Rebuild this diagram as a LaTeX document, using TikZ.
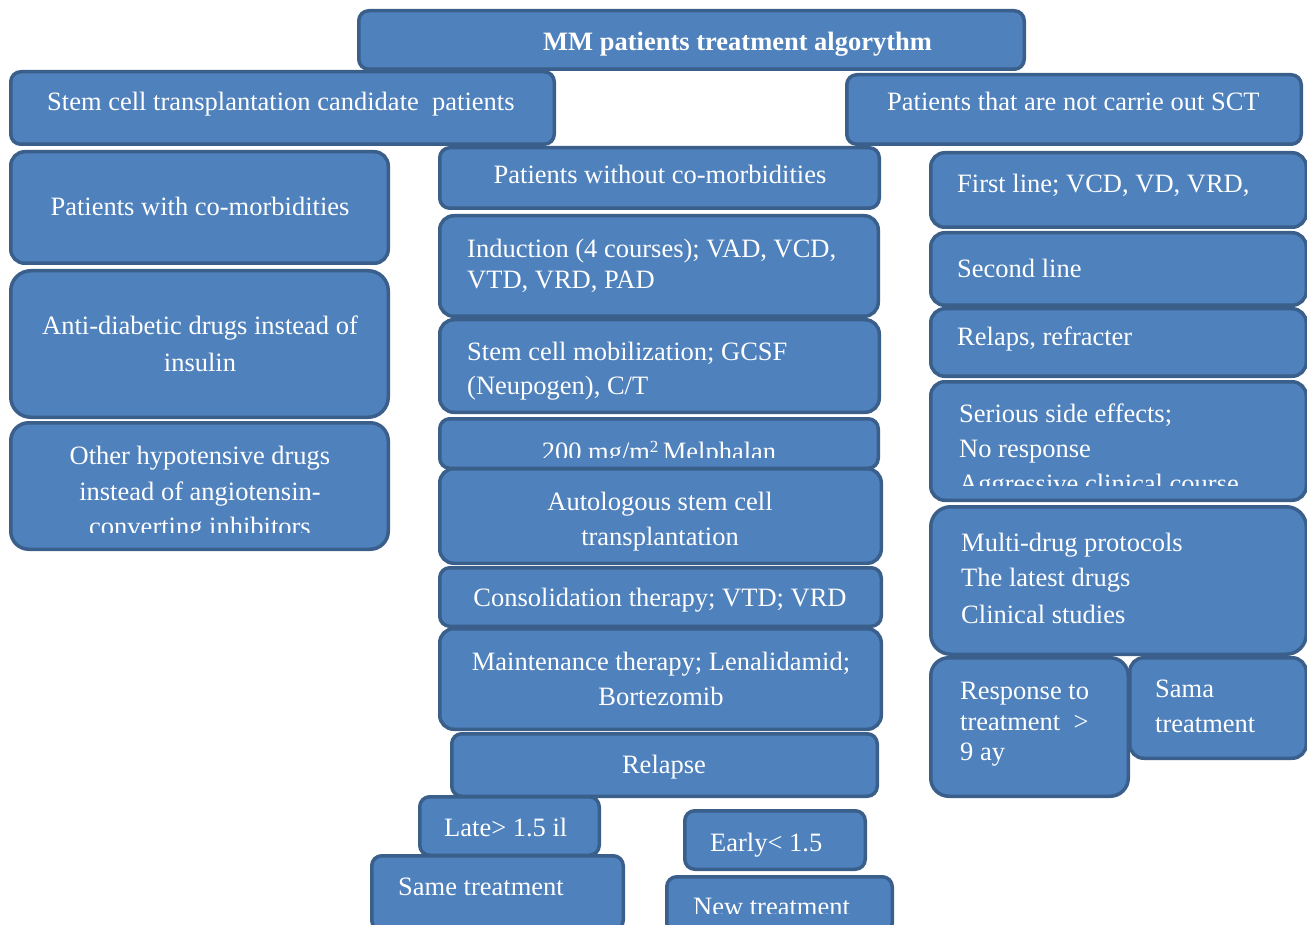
\documentclass[tikz,border=0pt]{standalone}
\usepackage{fontspec}
\setmainfont{Liberation Serif}
\definecolor{boxfill}{HTML}{4F81BD}
\definecolor{boxline}{HTML}{3A5F8B}
\tikzset{
  bx/.style={fill=boxfill, draw=boxline, line width=3.5pt, rounded corners=14pt},
  sbx/.style={bx, rounded corners=10pt},
  tl/.style={anchor=base west, inner sep=0pt, text=white, font=\fontsize{26.5}{35}\selectfont},
  tc/.style={tl, anchor=base},
}
\newcommand{\bxr}[5][bx]{\draw[#1] ({#2+1.75},{#3+1.75}) rectangle ({#4-1.75},{#5-1.75});}
\begin{document}
\begin{tikzpicture}[x=1pt,y=-1pt]
\useasboundingbox (0,0) rectangle (1307,925);
\clip (0,0) rectangle (1307,925);
% top
\bxr[sbx]{357}{9}{1026}{71}
\node[tl, font=\fontsize{26.5}{35}\selectfont\bfseries] (title) at (543,51) {MM patients treatment algorythm};
\bxr[sbx]{9}{70}{556}{146}
\node[tl] (stem) at (47,111) {Stem cell transplantation candidate\ \ patients};
\bxr[sbx]{845}{73}{1303}{146}
\node[tl] (nosct) at (887,111) {Patients that are not carrie out SCT};
% left column
\bxr{9}{150}{390}{265}
\node[tc] (withc) at (200,216) {Patients with co-morbidities};
\bxr[bx, rounded corners=20pt]{9}{269}{390}{419}
\node[tc] (anti1) at (200,335) {Anti-diabetic drugs instead of};
\node[tc] (anti2) at (200,371) {insulin};
\bxr[bx, rounded corners=18pt]{9}{421}{390}{551}
\node[tc] (oth1) at (200,464) {Other hypotensive drugs};
\node[tc] (oth2) at (200,500) {instead of angiotensin-};
\begin{scope}
\clip (9,421) rectangle (390,532.5);
\node[tc] (oth3) at (200,535) {converting inhibitors};
\end{scope}
% middle column
\bxr[sbx]{438}{146}{881}{210}
\node[tc] (without) at (660,184) {Patients without co-morbidities};
\bxr{438}{214}{880}{318}
\node[tl] (ind1) at (467,258) {Induction (4 courses); VAD, VCD,};
\node[tl] (ind2) at (467,289) {VTD, VRD, PAD};
\bxr{438}{318}{881}{414}
\node[tl] (mob1) at (467,360) {Stem cell mobilization; GCSF};
\node[tl] (mob2) at (467,395) {(Neupogen), C/T};
\bxr[sbx]{438}{417}{880}{470}
\begin{scope}
\clip (438,417) rectangle (880,457);
\node[tc] (mel) at (659,460) {200 mg/m\raisebox{8pt}{\fontsize{17}{17}\selectfont 2}\,Melphalan};
\end{scope}
\bxr{438}{467}{883}{565}
\node[tc] (auto1) at (660,510) {Autologous stem cell};
\node[tc] (auto2) at (660,545) {transplantation};
\bxr[sbx]{438}{566}{883}{628}
\node[tc] (cons) at (660,606) {Consolidation therapy; VTD; VRD};
\bxr{438}{627}{883}{731}
\node[tc] (main1) at (661,670) {Maintenance therapy; Lenalidamid;};
\node[tc] (main2) at (661,705) {Bortezomib};
\bxr[sbx]{450}{732}{879}{798}
\node[tc] (relapse) at (664,773) {Relapse};
\bxr[sbx]{418}{795}{601}{857}
\node[tl] (late) at (444,836) {Late> 1.5 il};
\bxr[sbx]{370}{854}{625}{932}
\node[tl] (same) at (398,895) {Same treatment};
\bxr[sbx]{683}{809}{867}{871}
\node[tl] (early) at (710,851) {Early< 1.5};
\bxr[sbx]{665}{875}{894}{935}
\begin{scope}
\clip (665,875) rectangle (894,913);
\node[tl] (new) at (693,915) {New treatment};
\end{scope}
% right column
\bxr{929}{151}{1308}{229}
\node[tl] (first) at (957,193) {First line; VCD, VD, VRD,};
\bxr{929}{231}{1308}{307}
\node[tl] (second) at (957,278) {Second line};
\bxr{929}{307}{1308}{378}
\node[tl] (relref) at (957,345) {Relaps, refracter};
\bxr{929}{380}{1308}{502}
\node[tl] (ser1) at (959,422) {Serious side effects;};
\node[tl] (ser2) at (959,457) {No response};
\begin{scope}
\clip (929,380) rectangle (1308,485.5);
\node[tl] (ser3) at (959,492) {Aggressive clinical course};
\end{scope}
\bxr[bx, rounded corners=20pt]{929}{505}{1308}{656}
\node[tl] (mul1) at (961,551) {Multi-drug protocols};
\node[tl] (mul2) at (961,586) {The latest drugs};
\node[tl] (mul3) at (961,623) {Clinical studies};
\bxr{1128}{656}{1308}{760}
\node[tl] (sama1) at (1155,697) {Sama};
\node[tl] (sama2) at (1155,732) {treatment};
\bxr[bx, rounded corners=18pt]{929}{656}{1130}{798}
\node[tl] (resp1) at (960,699) {Response to};
\node[tl] (resp2) at (960,730) {treatment\ \ >};
\node[tl] (resp3) at (960,760) {9 ay};
\end{tikzpicture}
\end{document}
